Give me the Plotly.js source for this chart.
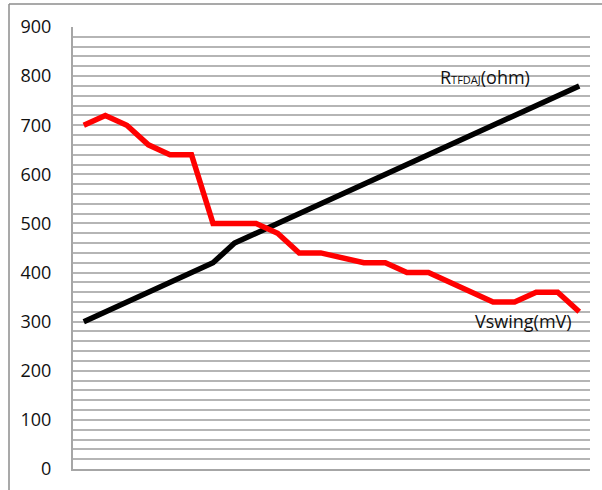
<!DOCTYPE html>
<html>
<head>
<meta charset="utf-8">
<script src="https://cdn.plot.ly/plotly-3.0.1.min.js"></script>
<style>html,body{margin:0;padding:0;background:#fff;}#chart{width:602px;height:490px;}</style>
</head>
<body>
<div id="chart"></div>
<script>
var categories = [1,2,3,4,5,6,7,8,9,10,11,12,13,14,15,16,17,18,19,20,21,22,23,24];
var rtfdaj = [300,320,340,360,380,400,420,460,480,500,520,540,560,580,600,620,640,660,680,700,720,740,760,780];
var vswing = [700,720,700,660,640,640,500,500,500,480,440,440,430,420,420,400,400,380,360,340,340,360,360,320];
var yTicks = [0,100,200,300,400,500,600,700,800,900];

var W = 602, H = 490;
var m = {l:73, r:12, t:27, b:21};
var pw = W - m.l - m.r, ph = H - m.t - m.b;
function px(x){ return (x - m.l)/pw; }
function py(y){ return (H - m.b - y)/ph; }

var xIdx = categories.map(function(c,i){ return i; });
var fontFam = '"Open Sans", "Noto Sans", sans-serif';

var traces = [
  {x:xIdx, y:rtfdaj, mode:'lines', line:{color:'#000000', width:5.5}, hoverinfo:'none'},
  {x:xIdx, y:vswing, mode:'lines', line:{color:'#ff0000', width:5.5}, hoverinfo:'none'}
];

var layout = {
  width:W, height:H,
  margin:m,
  showlegend:false,
  paper_bgcolor:'#ffffff', plot_bgcolor:'#ffffff',
  font:{family:fontFam, size:18, color:'#111111'},
  xaxis:{range:[-0.5, categories.length-0.5], showgrid:false, zeroline:false, showticklabels:false, ticks:'', showline:true, linecolor:'#a6a6a6', linewidth:2},
  yaxis:{range:[0,900], tickvals:yTicks, ticktext:yTicks.map(String), ticks:'', ticklabelstandoff:16,
         showgrid:true, gridcolor:'#b5b5b5', gridwidth:2, zeroline:false,
         minor:{dtick:20, showgrid:true, gridcolor:'#b5b5b5', gridwidth:2},
         showline:true, linecolor:'#a6a6a6', linewidth:2,
         tickfont:{family:fontFam, size:18, color:'#111111'}},
  annotations:[
    {x:16.45, y:798, xref:'x', yref:'y', xanchor:'left', yanchor:'middle', showarrow:false,
     text:'R<span style="font-size:11px">TFDAJ</span>(ohm)', font:{family:fontFam, size:18, color:'#111111'}},
    {x:18.07, y:301, xref:'x', yref:'y', xanchor:'left', yanchor:'middle', showarrow:false,
     text:'Vswing(mV)', font:{family:fontFam, size:18, color:'#111111'}}
  ],
  shapes:[
    {type:'line', xref:'paper', yref:'paper', x0:px(9), x1:px(9), y0:py(4), y1:py(H+5), line:{color:'#8c8c8c', width:1.5}},
    {type:'line', xref:'paper', yref:'paper', x0:px(9), x1:px(W+5), y0:py(4), y1:py(4), line:{color:'#8c8c8c', width:1.5}}
  ]
};

Plotly.newPlot('chart', traces, layout, {displayModeBar:false, staticPlot:true});
</script>
</body>
</html>
